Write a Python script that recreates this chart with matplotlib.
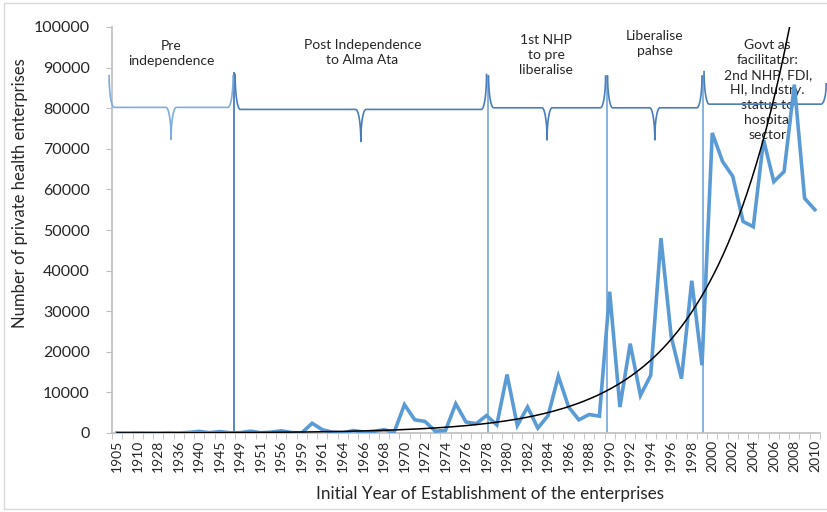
import numpy as np
import matplotlib
matplotlib.use("Agg")
import matplotlib.pyplot as plt
from matplotlib.patches import Rectangle

plt.rcParams['font.family'] = ['Lato', 'DejaVu Sans']

# categories (only every other one is labelled on the axis)
years = [1905, 1908, 1910, 1920, 1928, 1932, 1936, 1938, 1940, 1942,
         1945, 1947, 1949, 1950, 1951, 1955, 1956, 1958, 1959, 1960,
         1961, 1962, 1964, 1965, 1966, 1967, 1968, 1969, 1970, 1971,
         1972, 1973, 1974, 1975, 1976, 1977, 1978, 1979, 1980, 1981,
         1982, 1983, 1984, 1985, 1986, 1987, 1988, 1989, 1990, 1991,
         1992, 1993, 1994, 1995, 1996, 1997, 1998, 1999, 2000, 2001,
         2002, 2003, 2004, 2005, 2006, 2007, 2008, 2009, 2010]

enterprises = [30, 10, 40, 20, 10, 60, 20, 150, 400, 80,
               350, 50, 80, 450, 60, 200, 550, 100, 30, 2400,
               800, 200, 20, 600, 250, 400, 800, 200, 7000, 3250,
               2850, 450, 600, 7200, 2700, 2300, 4300, 2000, 14400, 1850,
               6400, 1200, 4300, 14000, 6400, 3250, 4550, 4150, 34800, 6400,
               22000, 9250, 14200, 48000, 23700, 13400, 37500, 16700, 73900, 66900,
               63200, 52100, 50800, 72200, 61900, 64400, 85800, 57800, 55000]

# exponential trendline: value at category 47 and growth per category
trend_ref_idx = 47
trend_ref_val = 9500
trend_rate = 0.127

phase_labels = ['Pre\nindependence',
                'Post Independence\nto Alma Ata',
                '1st NHP\nto pre\nliberalise',
                'Liberalise\npahse',
                'Govt as\nfacilitator:\n2nd NHP, FDI,\nHI, Industry.\nstatus to\nhospital\nsector']

fig = plt.figure(figsize=(8.28, 5.12), dpi=100)
ax = fig.add_axes([112 / 828, 79 / 512, 708 / 828, 406 / 512])

x = np.arange(len(years))
ax.plot(x, enterprises, color='#5B9BD5', lw=2.6, solid_joinstyle='miter', zorder=5)

xt = np.linspace(0, len(years) - 1, 300)
ax.plot(xt, trend_ref_val * np.exp(trend_rate * (xt - trend_ref_idx)),
        color='black', lw=1.1, zorder=6)


def brace(x0, x1, base, color, up=7800, down=7900, right_up=None, dip=True, rx=0.5):
    t = np.linspace(0, np.pi / 2, 25)
    ru = up if right_up is None else right_up
    xs = list(x0 + rx - rx * np.cos(t))
    ys = list(base + up - up * np.sin(t))
    if dip:
        xm = (x0 + x1) / 2
        xs += list(xm - rx + rx * np.sin(t))
        ys += list(base - down + down * np.cos(t))
        xs += list(xm + rx - rx * np.cos(t))
        ys += list(base - down + down * np.sin(t))
    xs += list(x1 - rx + rx * np.sin(t))
    ys += list(base + ru - ru * np.cos(t))
    ax.plot(xs, ys, color=color, lw=1.2, clip_on=False, zorder=3)


brace(-0.78, 11.3, 80200, '#7FAEDD')
brace(11.5, 36.0, 79700, '#4A7EBB', up=8600)
brace(36.2, 47.6, 80100, '#4A7EBB')
brace(47.8, 57.0, 80100, '#4A7EBB')
brace(57.2, 69.1, 81000, '#4A7EBB', up=8000, right_up=5000, dip=False)

# phase boundaries
ax.vlines(11.4, 0, 88800, color='#4A7EBB', lw=1.3, zorder=2)
ax.vlines([36.1, 47.7, 57.1], 0, 88300, color='#7FAEDD', lw=1.3, zorder=2)

text_pos = [(5.26, 93400), (23.9, 93800), (41.8, 93000), (52.4, 95900), (63.4, 84400)]
for (tx, ty), lab in zip(text_pos, phase_labels):
    ax.text(tx, ty, lab, ha='center', va='center', fontsize=10,
            color='#262626', linespacing=1.3, zorder=1)

ax.set_xlim(-0.5, len(years) - 0.5)
ax.set_ylim(0, 100000)
ax.set_yticks(range(0, 100001, 10000))
ax.set_yticklabels([str(v) for v in range(0, 100001, 10000)], fontsize=11.5, color='#262626')
ax.set_xticks(x[::2])
ax.set_xticklabels([str(y) for y in years[::2]], rotation=90, fontsize=10, color='#262626')
ax.set_xticks(np.arange(-0.5, len(years), 1), minor=True)
ax.tick_params(axis='x', which='major', length=0, pad=5)
ax.tick_params(axis='x', which='minor', length=4, color='#BFBFBF')
ax.tick_params(axis='y', length=4, color='#BFBFBF', pad=12)

for s in ['top', 'right']:
    ax.spines[s].set_visible(False)
for s in ['left', 'bottom']:
    ax.spines[s].set_color('#BFBFBF')
    ax.spines[s].set_linewidth(1.2)

fig.text(490 / 828, 1 - 494 / 512, 'Initial Year of Establishment of the enterprises',
         ha='center', va='center', fontsize=12.3, color='#262626')
fig.text(20 / 828, 1 - 193 / 512, 'Number of private health enterprises',
         ha='center', va='center', rotation=90, fontsize=12, color='#262626')

fig.patches.append(Rectangle((4 / 828, 3 / 512), 1.2, 1 - 6 / 512, transform=fig.transFigure,
                             fill=False, edgecolor='#D9D9D9', lw=1, zorder=0))

fig.savefig('out.png', dpi=100)
